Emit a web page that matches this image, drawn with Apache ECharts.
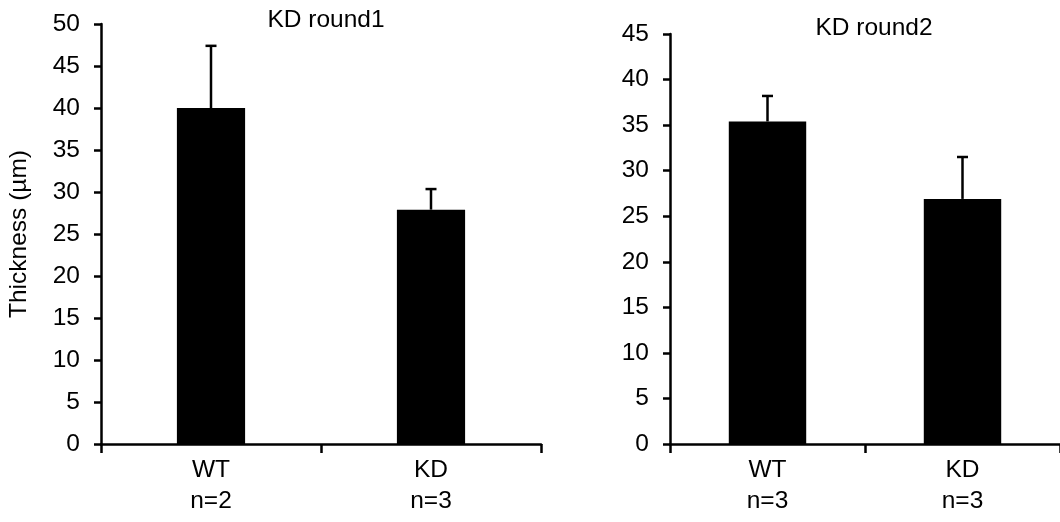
<!DOCTYPE html>
<html>
<head>
<meta charset="utf-8">
<script src="https://cdn.jsdelivr.net/npm/echarts@6/dist/echarts.min.js"></script>
<style>
html,body{margin:0;padding:0;background:#fff;}
#main{width:1060px;height:522px;}
</style>
</head>
<body>
<div id="main"></div>
<script>
// Data
var categories1 = ['WT\nn=2', 'KD\nn=3'];
var means1 = [40.0, 27.9];
var errors1 = [7.4, 2.45];
var title1 = 'KD round1';

var categories2 = ['WT\nn=3', 'KD\nn=3'];
var means2 = [35.4, 26.9];
var errors2 = [2.8, 4.6];
var title2 = 'KD round2';

var yName = 'Thickness (µm)';

var FONT = '"Liberation Sans", Arial, Helvetica, sans-serif';
var FS = 24.5;

function errData(means, errs) {
  return means.map(function (m, i) { return [i, m, m + errs[i]]; });
}

function errRender(params, api) {
  var x = api.value(0);
  var lo = api.coord([x, api.value(1)]);
  var hi = api.coord([x, api.value(2)]);
  var half = 5.5;
  var st = { stroke: '#000', lineWidth: 2.5 };
  return {
    type: 'group',
    children: [
      { type: 'line', shape: { x1: lo[0], y1: lo[1], x2: hi[0], y2: hi[1] }, style: st },
      { type: 'line', shape: { x1: hi[0] - half, y1: hi[1], x2: hi[0] + half, y2: hi[1] }, style: st }
    ]
  };
}

function xAxis(idx, cats) {
  return {
    type: 'category', gridIndex: idx, data: cats,
    axisLine: { lineStyle: { color: '#000', width: 2.5 } },
    axisTick: { show: true, length: 9, lineStyle: { color: '#000', width: 2.5 } },
    axisLabel: { color: '#000', fontSize: FS, fontFamily: FONT, lineHeight: 31, margin: 11 }
  };
}
function yAxis(idx, max, extra) {
  var o = {
    type: 'value', gridIndex: idx, min: 0, max: max, interval: 5,
    splitLine: { show: false },
    axisLine: { show: true, lineStyle: { color: '#000', width: 2.5 } },
    axisTick: { show: true, length: 7, lineStyle: { color: '#000', width: 2.5 } },
    axisLabel: { color: '#000', fontSize: FS, fontFamily: FONT, margin: 21 }
  };
  for (var k in extra) o[k] = extra[k];
  return o;
}

var chart = echarts.init(document.getElementById('main'), null, { renderer: 'canvas' });
chart.setOption({
  animation: false,
  backgroundColor: '#fff',
  title: [
    { text: title1, left: 321, top: 3, textAlign: 'center',
      textStyle: { color: '#000', fontSize: FS, fontWeight: 'normal', fontFamily: FONT } },
    { text: title2, left: 869, top: 11, textAlign: 'center',
      textStyle: { color: '#000', fontSize: FS, fontWeight: 'normal', fontFamily: FONT } }
  ],
  grid: [
    { left: 101, top: 24, width: 440, height: 420 },
    { left: 670, top: 34, width: 398, height: 410 }
  ],
  xAxis: [xAxis(0, categories1), xAxis(1, categories2)],
  yAxis: [
    yAxis(0, 50, { name: yName, nameLocation: 'middle', nameGap: 69, nameRotate: 90,
      nameTextStyle: { color: '#000', fontSize: FS, fontFamily: FONT } }),
    yAxis(1, 45, {})
  ],
  series: [
    { type: 'bar', xAxisIndex: 0, yAxisIndex: 0, data: means1, barWidth: '31%',
      itemStyle: { color: '#000' } },
    { type: 'custom', xAxisIndex: 0, yAxisIndex: 0, data: errData(means1, errors1),
      renderItem: errRender, z: 3 },
    { type: 'bar', xAxisIndex: 1, yAxisIndex: 1, data: means2, barWidth: '39.7%',
      itemStyle: { color: '#000' } },
    { type: 'custom', xAxisIndex: 1, yAxisIndex: 1, data: errData(means2, errors2),
      renderItem: errRender, z: 3 }
  ]
});
</script>
</body>
</html>
